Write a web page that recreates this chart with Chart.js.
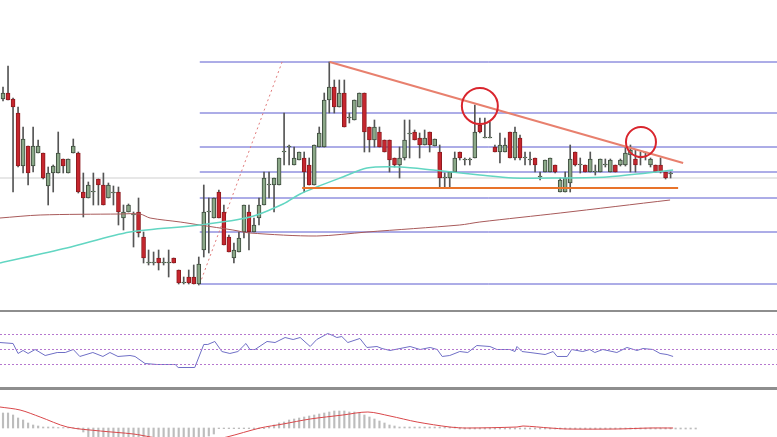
<!DOCTYPE html>
<html>
<head>
<meta charset="utf-8">
<script src="https://cdn.jsdelivr.net/npm/chart.js@4.4.1/dist/chart.umd.min.js"></script>
<style>
  body { margin: 0; background: #fff; width: 777px; height: 437px; overflow: hidden; position: relative; }
  canvas { position: absolute; left: 0; }
  .sep { position: absolute; left: 0; width: 777px; background: #8e8e8e; }
</style>
</head>
<body>
<canvas id="mainChart" width="777" height="310" style="top:0"></canvas>
<div class="sep" style="top:310px;height:2px"></div>
<canvas id="rsiChart" width="777" height="75" style="top:312px"></canvas>
<div class="sep" style="top:387px;height:3px"></div>
<canvas id="macdChart" width="777" height="47" style="top:390px"></canvas>
<script>
// candles (one per bar)
const opens  = [211,217,211,197,144,164,144,157,157,124,137,137,151,137,157,157,118,112,118,131,125,112,117,118,92,98,95,98,73,47,47,52,47,47,52,40,27,33,33,26,60,98,92,118,98,73,52,58,78,98,78,92,105,125,125,125,158,163,145,150,152,145,125,163,163,210,223,203,217,192,190,203,217,183,170,178,170,170,152,145,152,176,178,172,165,178,164,158,132,132,138,158,150,150,152,185,172,172,163,158,158,178,152,172,152,150,152,133,138,138,145,118,118,127,158,145,145,138,138,138,145,138,145,145,145,155,151,152,157,145,145,145,138,136];
const highs  = [223,244,212,203,183,164,183,170,157,143,145,178,151,151,171,158,137,128,137,131,137,127,124,123,105,106,98,112,78,60,58,60,52,60,52,40,33,40,45,53,125,112,112,120,105,75,67,78,105,105,92,112,138,138,132,152,197,165,163,158,158,152,165,183,217,248,230,230,230,197,210,217,217,183,190,183,170,170,152,163,190,190,180,177,180,178,171,165,137,138,158,158,152,152,205,192,192,188,165,177,172,178,183,175,158,158,152,138,150,152,145,132,138,165,158,152,145,158,145,151,151,151,145,151,163,165,160,158,158,152,145,152,138,138];
const lows   = [209,210,118,143,137,125,138,157,131,105,118,137,137,137,157,117,93,112,105,105,105,112,105,85,80,98,63,73,47,45,45,40,45,33,47,26,26,26,26,25,53,57,92,92,65,58,47,58,72,60,78,85,105,112,98,125,145,145,145,150,118,125,125,163,163,197,197,203,183,187,190,203,158,158,163,163,158,138,143,132,150,152,170,152,165,158,164,123,123,123,138,150,145,145,152,177,172,172,158,147,158,152,150,150,145,145,138,130,138,138,137,118,118,118,144,137,138,138,135,138,143,138,138,144,144,138,138,145,150,143,138,137,131,132];
const closes = [217,210,203,144,171,137,164,164,132,137,144,157,144,151,164,118,112,125,119,125,105,125,118,98,98,105,96,77,52,48,48,47,48,48,47,27,28,27,26,46,98,99,112,92,65,58,60,72,105,78,85,105,132,126,132,152,159,164,152,158,138,125,165,177,210,223,203,217,183,193,210,217,178,170,183,163,158,150,145,152,170,177,170,165,172,165,171,132,133,138,152,152,151,151,178,178,173,173,158,165,165,152,178,152,153,151,145,134,150,152,138,130,132,151,145,146,138,151,139,151,146,150,138,150,157,160,145,153,158,151,138,138,132,137];

// fibonacci levels and drawn lines
const fibLevels = [248, 197, 163, 138, 112, 78, 26];
const fibStart = 39.2;
const lastPrice = 132;
const fibLeg = [{x: 39.2, y: 26}, {x: 55.6, y: 248}];
const trendLine = [{x: 65.1, y: 248}, {x: 135.5, y: 147}];
const supportLine = [{x: 59.6, y: 122}, {x: 134.5, y: 122}];
const circles = [{x: 95.0, y: 204, r: 18}, {x: 127.1, y: 168, r: 15}];

// moving averages
const maSlow = [[-0.6,92],[7.4,95],[23.3,96],[27.3,96],[29.3,92],[35.3,88],[39.2,85],[45.8,80],[49.2,77],[62.5,74],[72.5,78],[91,85],[95,88],[111,97],[132.9,110]];
const maFast = [[-0.6,47],[12.7,62],[25.3,78],[39.2,85],[49.2,93],[55.8,106],[59.2,116],[62.5,123],[67.7,133],[72.5,142],[79.1,143],[85.7,140],[95,135],[101.6,132],[111,132],[120.3,133],[128.3,137],[133.5,140]];

// RSI
const rsiLevels = [70, 50, 30];
const rsiIdx = [-0.6,2.0,3.0,4.0,5.0,6.4,8.4,10.8,12.4,14,15.3,17.9,19.9,21.3,22.9,25.3,26.3,28.3,30.7,34.3,34.9,38.2,40.0,40.8,42.2,43.6,45.2,46.8,48.4,49.2,50.2,52.6,54.2,56.2,57.8,59.2,61.2,62.5,64.7,65.7,66.5,67.5,68.7,71.1,72.5,74.5,75.5,77.1,79.1,81.1,83.1,85.1,86.5,87.5,89,91,92.6,94.4,97,98.4,101,102,102.4,103.4,105,108,109.6,110.4,112.4,113.3,115.5,116.9,117.9,119.5,122.3,124.3,126.3,127.5,129.5,130.9,132.3,133.5];
const rsiVal = [59.3,58,44.7,48.7,44.7,50,42,46,46,50,40.7,46,40.7,46,40.7,42,40.7,31.3,30,30,26,26,56.7,56.7,60.7,47.3,44.7,47.3,58,50,50,60.7,59.3,66,63.3,66,54,63.3,71.3,68.7,66,67.3,59.3,64.7,52.7,54,51.3,48.7,51.3,54,50,52.7,50,40.7,42,47.3,46,55.3,54,50,50,47.3,54,47.3,46,43.3,47.3,40.7,40.7,50,47.3,50,46,50,46,52.7,48.7,51.3,50,44.7,43.3,40.7];

// MACD
const macdHist = [15,15,13,10,8,5,3,2,1,1,1,0.5,0.5,0.5,0.3,-1,-4,-10,-12,-13,-14,-14,-15,-15,-15,-15,-15,-15,-15,-14,-14,-14,-13,-13,-13,-12,-12,-11,-11,-10,-10,-8,-6,-0.7,-0.7,-0.7,-0.7,-0.7,-0.7,-0.7,-0.7,-0.7,-0.7,1,3,5,6,8,9,10,11,12,13,14,15,16,17,17,17,16,16,15,13,11,9,7,5,3,2,1,1,1,1,1,1,1,1,1,1,1,1,-1,-1,-1,-1,-1,-1,-1,-1,-1,-1,-1,-1,-1,-1,-1,-1,-1,-1,-1,-1,-1,-1,-1,-1,-1,-1,-1,-1,-1,-1,-1,-1,-1,-1,-1,-1,-1,-1,-1,-1,-1,-1,-1,-1,-1,-1,-1,-1];
const macdSignal = [[-0.6,21],[3.4,18],[7.4,11],[12.8,1],[19.4,-3],[26,-6],[29.4,-9],[35.3,-14],[41.2,-12],[44.6,-9],[51.2,0],[55.8,4],[61.2,9],[67.7,13],[72.7,16],[77.1,12],[82.5,6],[89,1],[92.4,0],[102.4,1],[103.6,2],[109,0],[112.4,-1],[122.3,-1],[128.9,0],[133.5,0]];

const xMin = -0.6, xMax = 154.2;
const GREEN = '#8ba888', GREEN_EDGE = '#3e4c3e', RED = '#c6262e', RED_EDGE = '#8e1b1f';

function baseOptions(yMin, yMax) {
  return {
    responsive: false,
    animation: false,
    layout: { padding: 0, autoPadding: false },
    plugins: { legend: { display: false }, tooltip: { enabled: false } },
    scales: {
      x: { type: 'linear', min: xMin, max: xMax, offset: false, display: false },
      y: { min: yMin, max: yMax, display: false }
    }
  };
}
function lineSet(points, color, width, extra) {
  return Object.assign({
    type: 'line', data: points, borderColor: color, borderWidth: width,
    pointRadius: 0, fill: false, tension: 0
  }, extra || {});
}
const toXY = arr => arr.map(p => ({x: p[0], y: p[1]}));

// main chart datasets
const wicks = highs.map((h, i) => ({x: i, y: [lows[i], h]}));
const bodies = opens.map((o, i) => ({x: i, y: [o, closes[i]]}));
const bodyFill = opens.map((o, i) => closes[i] >= o ? GREEN : RED);
const bodyEdge = opens.map((o, i) => closes[i] >= o ? GREEN_EDGE : RED_EDGE);

const mainSets = [];
fibLevels.forEach(lv => {
  mainSets.push(lineSet([{x: fibStart, y: lv}, {x: xMax, y: lv}], '#5b5bcf', 1, {order: 10}));
});
mainSets.push(lineSet([{x: xMin, y: lastPrice}, {x: xMax, y: lastPrice}], '#cfcfcf', 1, {order: 11}));
mainSets.push(lineSet(fibLeg, '#e07a7a', 1, {borderDash: [2, 3], order: 9}));
mainSets.push({ type: 'bar', data: wicks, backgroundColor: '#555', barThickness: 1, grouped: false, order: 6 });
mainSets.push({ type: 'bar', data: bodies, backgroundColor: bodyFill, borderColor: bodyEdge,
  borderWidth: 1, borderSkipped: false, barThickness: 4, grouped: false, order: 5 });
mainSets.push(lineSet(toXY(maSlow), '#a85a5a', 1, {tension: 0.3, order: 4}));
mainSets.push(lineSet(toXY(maFast), '#62d6c2', 1.5, {tension: 0.3, order: 3}));
mainSets.push(lineSet(supportLine, '#e8732a', 2, {order: 2}));
mainSets.push(lineSet(trendLine, '#e8806e', 2, {order: 1}));
mainSets.push({ type: 'scatter', data: circles.map(c => ({x: c.x, y: c.y})),
  pointRadius: circles.map(c => c.r), backgroundColor: 'rgba(0,0,0,0)',
  borderColor: '#d9252d', borderWidth: 2, clip: false, order: 0 });

new Chart(document.getElementById('mainChart'), {
  type: 'bar', data: { datasets: mainSets }, options: baseOptions(0, 310)
});

// RSI panel
const rsiSets = rsiLevels.map(lv =>
  lineSet([{x: xMin, y: lv}, {x: xMax, y: lv}], '#b678cf', 1, {borderDash: [2, 2]}));
rsiSets.push(lineSet(rsiIdx.map((x, i) => ({x: x, y: rsiVal[i]})), '#6f6fc6', 1));
new Chart(document.getElementById('rsiChart'), {
  type: 'line', data: { datasets: rsiSets }, options: baseOptions(0, 100)
});

// MACD panel
new Chart(document.getElementById('macdChart'), {
  type: 'bar',
  data: { datasets: [
    lineSet(toXY(macdSignal), '#d9474a', 1, {tension: 0.3, order: 0}),
    { type: 'bar', data: macdHist.map((v, i) => ({x: i, y: v})), backgroundColor: '#bdbdbd',
      barThickness: 1.5, grouped: false, order: 1 }
  ] },
  options: baseOptions(-9, 38)
});
</script>
</body>
</html>
